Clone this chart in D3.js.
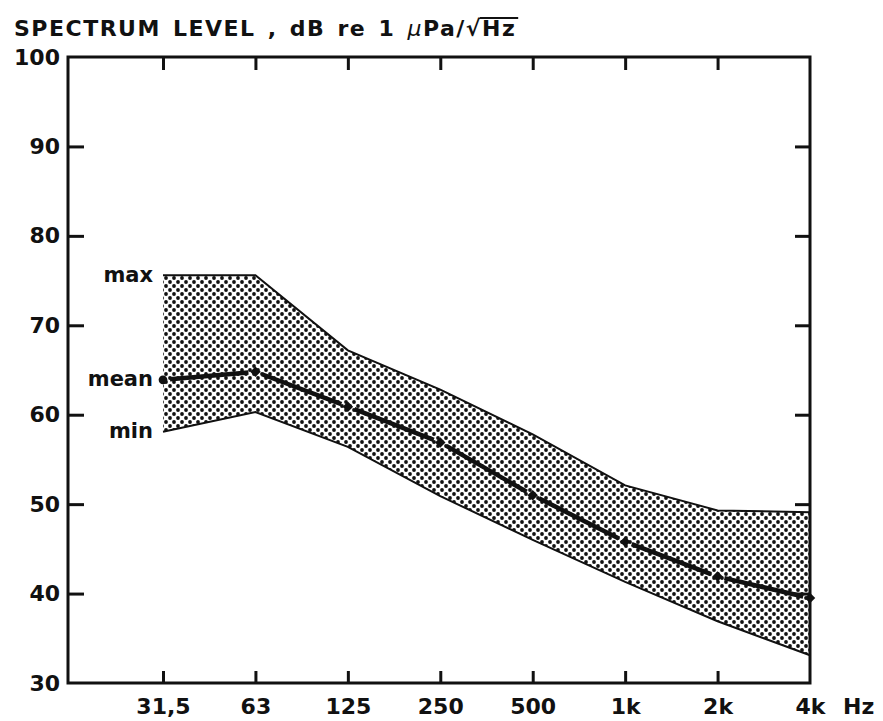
<!DOCTYPE html>
<html lang="en">
  <head>
    <meta charset="utf-8">
    <title>Spectrum level</title>
    <script src="https://d3js.org/d3.v7.min.js"></script>
    <style>
      body { margin: 0; background: white; }
      text { font-family: "DejaVu Sans", sans-serif; font-weight: bold; fill: #111; }
    </style>
  </head>
  <body>
    <script type="text/javascript">

      // octave band centre frequencies
      var bands = ["31,5", "63", "125", "250", "500", "1k", "2k", "4k"];
      var maxLevel  = [75.6, 75.6, 67.2, 62.8, 57.8, 52.1, 49.3, 49.1];
      var meanLevel = [63.9, 64.8, 60.9, 56.9, 51.0, 45.8, 41.9, 39.5];
      var minLevel  = [58.1, 60.3, 56.4, 50.9, 46.0, 41.3, 36.9, 33.1];
      var yTicks = [30, 40, 50, 60, 70, 80, 90, 100];

      var w = 883;
      var h = 721;
      var frame = {left: 68, right: 810, top: 57, bottom: 683};

      var dataset = bands.map(function(b, i) {
        return {band: b, max: maxLevel[i], mean: meanLevel[i], min: minLevel[i]};
      });

      var svg = d3.select("body")
        .append("svg")
          .attr("width", w)
          .attr("height", h);

      var defs = svg.append("defs");
      var pat = defs.append("pattern")
          .attr("id", "dots")
          .attr("patternUnits", "userSpaceOnUse")
          .attr("width", 8)
          .attr("height", 8);
      pat.append("rect").attr("width", 8).attr("height", 8).attr("fill", "white");
      pat.append("circle").attr("cx", 2).attr("cy", 2).attr("r", 1.9).attr("fill", "#111");
      pat.append("circle").attr("cx", 6).attr("cy", 6).attr("r", 1.9).attr("fill", "#111");

      var xScale = d3.scalePoint()
          .domain(bands)
          .range([163, frame.right]);

      var yScale = d3.scaleLinear()
          .domain([30, 100])
          .range([frame.bottom, frame.top]);

      // band between min and max
      var area = d3.area()
          .x(d => xScale(d.band))
          .y0(d => yScale(d.min))
          .y1(d => yScale(d.max));

      svg.append("path")
          .datum(dataset)
          .attr("d", area)
          .attr("fill", "url(#dots)");

      var maxLine = d3.line().x(d => xScale(d.band)).y(d => yScale(d.max));
      var minLine = d3.line().x(d => xScale(d.band)).y(d => yScale(d.min));

      svg.append("path").datum(dataset).attr("d", maxLine)
          .attr("fill", "none").attr("stroke", "#111").attr("stroke-width", 2);
      svg.append("path").datum(dataset).attr("d", minLine)
          .attr("fill", "none").attr("stroke", "#111").attr("stroke-width", 2);

      // mean: thick segments with small gaps at each point
      var gap = 7;
      var segs = d3.pairs(dataset).map(function(p) {
        var x1 = xScale(p[0].band), y1 = yScale(p[0].mean);
        var x2 = xScale(p[1].band), y2 = yScale(p[1].mean);
        var len = Math.hypot(x2 - x1, y2 - y1);
        var ux = (x2 - x1) / len, uy = (y2 - y1) / len;
        return [[x1 + ux * gap, y1 + uy * gap], [x2 - ux * gap, y2 - uy * gap]];
      });

      svg.append("g").selectAll("line")
          .data(segs)
          .enter().append("line")
            .attr("x1", d => d[0][0]).attr("y1", d => d[0][1])
            .attr("x2", d => d[1][0]).attr("y2", d => d[1][1])
            .attr("stroke", "#111")
            .attr("stroke-width", 4.5)
            .attr("stroke-linecap", "butt");

      svg.append("g").selectAll("path")
          .data(dataset)
          .enter().append("path")
            .attr("transform", d => `translate(${xScale(d.band)},${yScale(d.mean)}) rotate(45)`)
            .attr("d", (d, i) => d3.symbol().type(i == 0 ? d3.symbolCircle : d3.symbolSquare).size(i == 0 ? 60 : 55)())
            .attr("fill", "#111");

      // frame
      svg.append("rect")
          .attr("x", frame.left)
          .attr("y", frame.top)
          .attr("width", frame.right - frame.left)
          .attr("height", frame.bottom - frame.top)
          .attr("fill", "none")
          .attr("stroke", "#111")
          .attr("stroke-width", 3);

      var yAxis = d3.axisLeft(yScale)
          .tickValues(yTicks)
          .tickSize(-16)
          .tickPadding(8)
          .tickFormat(d3.format("d"));

      var yAxisR = d3.axisRight(yScale)
          .tickValues(yTicks.slice(1, -1))
          .tickSize(-15)
          .tickFormat("");

      var xAxis = d3.axisBottom(xScale)
          .tickSize(-12)
          .tickPadding(15);

      var xAxisT = d3.axisTop(xScale)
          .tickValues(bands.slice(0, -1))
          .tickSize(-13)
          .tickFormat("");

      function styleAxis(g) {
        g.select(".domain").remove();
        g.selectAll(".tick line").attr("stroke", "#111").attr("stroke-width", 3);
        g.selectAll(".tick text").attr("font-size", 22).attr("font-family", null).attr("fill", "#111");
      }

      svg.append("g")
          .attr("transform", `translate(${frame.left},0)`)
          .call(yAxis)
          .call(styleAxis)
          .call(g => g.selectAll(".tick line").filter(d => d == 30 || d == 100).remove());

      svg.append("g")
          .attr("transform", `translate(${frame.right},0)`)
          .call(yAxisR)
          .call(styleAxis);

      svg.append("g")
          .attr("transform", `translate(0,${frame.bottom})`)
          .call(xAxis)
          .call(styleAxis)
          .call(g => g.selectAll(".tick line").filter(d => d == "4k").remove());

      svg.append("g")
          .attr("transform", `translate(0,${frame.top})`)
          .call(xAxisT)
          .call(styleAxis);

      svg.append("text")
          .attr("x", 843)
          .attr("y", 714)
          .attr("font-size", 22)
          .text("Hz");

      // series labels
      var first = dataset[0];
      var labels = [
        {t: "max", v: first.max},
        {t: "mean", v: first.mean},
        {t: "min", v: first.min}
      ];
      svg.append("g").selectAll("text")
          .data(labels)
          .enter().append("text")
            .attr("x", 153)
            .attr("y", d => yScale(d.v))
            .attr("dy", "0.3em")
            .attr("text-anchor", "end")
            .attr("font-size", 21)
            .text(d => d.t);

      // title
      var title = svg.append("text")
          .attr("x", 14)
          .attr("y", 36)
          .attr("font-size", 22)
          .attr("letter-spacing", 1.5)
          .attr("word-spacing", 3);
      title.append("tspan").text("SPECTRUM LEVEL , dB re 1 ");
      title.append("tspan").attr("font-style", "italic").attr("font-weight", "normal").text("μ");
      title.append("tspan").text("Pa/√");
      var hz = title.append("tspan").text("Hz");

      var bb = hz.node().getBBox();
      svg.append("line")
          .attr("x1", bb.x - 2).attr("x2", bb.x + bb.width + 2)
          .attr("y1", bb.y + 2).attr("y2", bb.y + 2)
          .attr("stroke", "#111").attr("stroke-width", 2);

    </script>
  </body>
</html>
